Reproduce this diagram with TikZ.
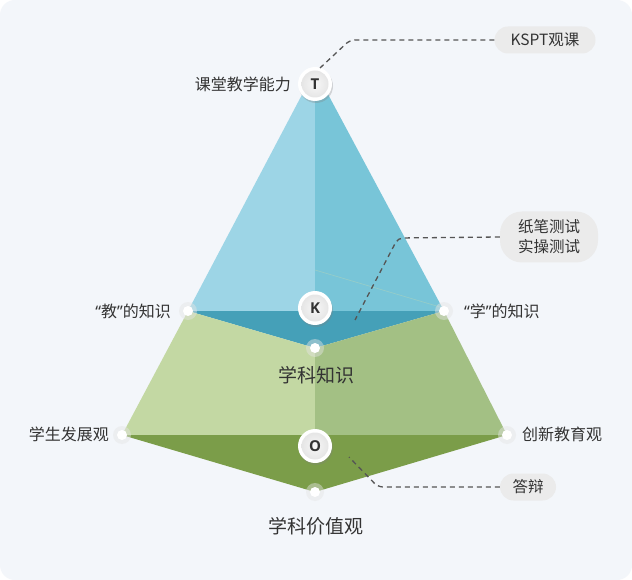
\documentclass[tikz,border=0pt]{standalone}
\usepackage{fontspec}
\setmainfont{Noto Sans CJK SC}
\newfontfamily\latb{Open Sans}
\newfontfamily\quotef{Noto Sans}
\usetikzlibrary{shadows}
\definecolor{bgc}{HTML}{F3F6FA}
\definecolor{blueL}{HTML}{9DD5E6}
\definecolor{blueR}{HTML}{78C5D8}
\definecolor{teal}{HTML}{45A0B8}
\definecolor{greenL}{HTML}{C3D8A3}
\definecolor{greenR}{HTML}{A3C084}
\definecolor{greenD}{HTML}{7B9D49}
\definecolor{txt}{HTML}{333333}
\definecolor{pillc}{HTML}{EBEBEB}
\definecolor{dashc}{HTML}{555555}
\definecolor{faint}{HTML}{A8D2C0}
\begin{document}
\begin{tikzpicture}[x=1pt,y=-1pt,
  lbl/.style={text=txt,font=\fontsize{16}{18}\selectfont,inner sep=0pt},
  biglbl/.style={text=txt,font=\fontsize{19}{22}\selectfont,inner sep=0pt},
  pill/.style={fill=pillc,rounded corners=13.5pt,minimum height=27pt,text=txt,font=\fontsize{15.5}{20}\selectfont,align=center,inner sep=0pt},
  conn/.style={draw=dashc,line width=1.3pt,dash pattern=on 5pt off 4pt,rounded corners=5pt},
  ring/.style={circle,fill=white,minimum size=34pt,inner sep=0pt,drop shadow={shadow xshift=1pt,shadow yshift=-2pt,opacity=0.3}},
  letter/.style={text=txt,font=\latb\bfseries\fontsize{15}{16}\selectfont,inner sep=0pt},
  dotring/.style={circle,fill=white!80!gray,fill opacity=0.45,minimum size=18pt,inner sep=0pt},
  dotc/.style={circle,fill=white,minimum size=10pt,inner sep=0pt}]
\useasboundingbox (0,0) rectangle (632,580);
\fill[white] (0,0) rectangle (632,580);
\fill[bgc,rounded corners=15pt] (0,0) rectangle (632,580);
% geometry
\coordinate (A) at (315,70);
\coordinate (L1) at (188,311);
\coordinate (R1) at (444,311);
\coordinate (V1) at (315,348);
\coordinate (M1) at (315,311);
\coordinate (L2) at (122,435);
\coordinate (R2) at (507,435);
\coordinate (M2) at (315,435);
\coordinate (V2) at (315,492);
% faces
\fill[blueL] (A) -- (L1) -- (M1) -- cycle;
\fill[blueR] (A) -- (M1) -- (R1) -- cycle;
\draw[draw=faint,line width=0.7pt,opacity=0.6] (315,270) -- (440,307);
\fill[teal] (L1) -- (R1) -- (V1) -- cycle;
\fill[greenL] (L1) -- (V1) -- (M2) -- (L2) -- cycle;
\fill[greenR] (V1) -- (R1) -- (R2) -- (M2) -- cycle;
\fill[greenD] (L2) -- (R2) -- (V2) -- cycle;
% dots
\foreach \p/\n in {L1/dl1,R1/dr1,V1/dv1,L2/dl2,R2/dr2,V2/dv2}{
  \node[dotring] (\n r) at (\p) {};
  \node[dotc] (\n) at (\p) {};
}
% letter circles
\foreach \n/\yy in {T/84,K/308,O/446}{
  \node[ring] (\n) at (315,\yy) {};
  \shade[inner color=white!94!gray,outer color=white!80!gray] (\n.center) circle (13.5pt);
  \node[letter] (\n l) at (\n) {\n};
}
% labels
\node[lbl,anchor=east] (lT) at (291,84) {课堂教学能力};
\node[lbl,anchor=east] (lL1) at (171,311) {{\quotef “}教{\quotef ”}的知识};
\node[lbl,anchor=west] (lR1) at (464,311) {{\quotef “}学{\quotef ”}的知识};
\node[biglbl] (lK) at (316,375) {学科知识};
\node[lbl,anchor=east] (lL2) at (109,434) {学生发展观};
\node[lbl,anchor=west] (lR2) at (522,434) {创新教育观};
\node[biglbl] (lO) at (316,526) {学科价值观};
% pills
\node[pill,minimum width=101pt] (p1) at (545,40) {KSPT观课};
\node[pill,minimum width=98pt,minimum height=51pt,rounded corners=22pt] (p2) at (549,237) {纸笔测试\\实操测试};
\node[pill,minimum width=56pt] (p3) at (528,487) {答辩};
% connectors
\coordinate (e1) at (320,68);
\coordinate (e2) at (355,320);
\coordinate (e3) at (349,457);
\draw[conn] (p1.west) -- (350,40) -- (e1);
\draw[conn] (p2.west) -- (398,238) -- (e2);
\draw[conn] (p3.west) -- (378,487) -- (e3);
\end{tikzpicture}
\end{document}
